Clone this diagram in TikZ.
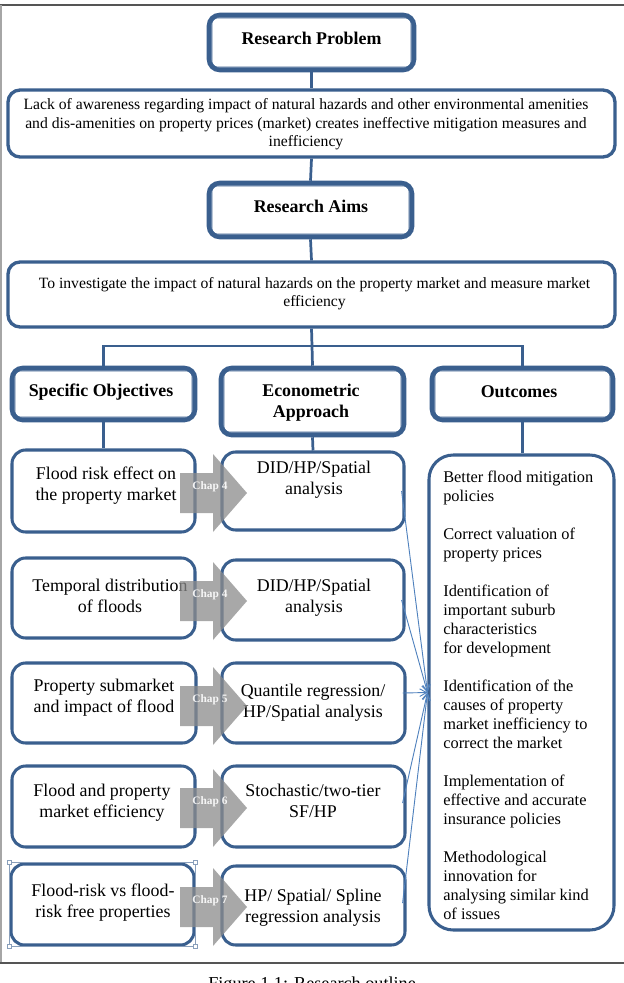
\documentclass[tikz,border=0pt]{standalone}
\usepackage{fontspec}
\setmainfont{Liberation Serif}
\usetikzlibrary{arrows.meta}
\definecolor{bord}{HTML}{3A5F8E}
\definecolor{thinb}{HTML}{4F81BD}
\definecolor{frameg}{HTML}{555555}
\newcommand\pbox[6]{\node[#1, minimum width={(#4-#2)*0.66pt}, minimum height={(#5-#3)*0.66pt}] (#6) at ({(#2+#4)/2},{(#3+#5)/2}) {};}
\newcommand\chaparr[3]{%
  \fill[chapfill] (180,{#1-20}) -- (213,{#1-20}) -- (213,{#1-39}) -- (247,#1) -- (213,{#1+39}) -- (213,{#1+20}) -- (180,{#1+20}) -- cycle;
  \node[chaptxt] (#2) at (210,{#1-6}) {#3};}
\begin{document}
\begin{tikzpicture}[x=0.66pt,y=-0.66pt,
  box/.style={draw=bord,line width=2pt,rounded corners=9pt,fill=white,inner sep=0pt},
  hdr/.style={draw=bord,line width=3pt,rounded corners=7pt,fill=white,inner sep=0pt},
  wide/.style={draw=bord,line width=2.2pt,rounded corners=8pt,fill=white,inner sep=0pt},
  outbox/.style={draw=bord,line width=2pt,rounded corners=16pt,fill=white,inner sep=0pt},
  conn/.style={draw=bord,line width=1.8pt},
  inner/.style={draw=bord,line width=0.55pt,rounded corners=4pt},
  thinarr/.style={draw=thinb,line width=0.6pt,-{Straight Barb[length=4.5pt,width=5pt]}},
  hdrtxt/.style={font=\fontsize{11.8}{13.9}\selectfont\bfseries,align=center,inner sep=0pt},
  rowtxt/.style={font=\fontsize{11.8}{13.9}\selectfont,align=center,inner sep=0pt},
  widetxt/.style={font=\fontsize{10.35}{12.3}\selectfont,align=center,inner sep=0pt},
  chapfill/.style={fill=black!45,fill opacity=0.75},
  chaptxt/.style={font=\fontsize{7.5}{9}\selectfont\bfseries,text=white,inner sep=0pt,text opacity=0.9},
]
\useasboundingbox (0,0) rectangle (624,983);
\clip (0,0) rectangle (624,983);
\fill[white] (0,0) rectangle (624,983);

% frame
\draw[frameg,line width=1.2pt] (0,5) -- (624,5);
\draw[black!35,line width=0.8pt] (1,5) -- (1,963);
\draw[frameg,line width=1.2pt] (0,963) -- (624,963);

% header boxes and wide boxes
\pbox{hdr}{209}{15}{414}{70}{rp}
\pbox{wide}{8}{90}{615}{157}{lack}
\pbox{hdr}{209}{183}{412}{237}{ra}
\pbox{wide}{8}{262}{615}{327}{aim}
\pbox{hdr}{12}{368}{195}{420}{so}
\pbox{hdr}{221}{368}{404}{435}{ea}
\pbox{hdr}{432}{368}{613}{420}{oc}
\foreach \n in {rp,ra,so,ea,oc}
  \draw[inner] ([xshift=3.4pt,yshift=-3.4pt]\n.north west) rectangle ([xshift=-3.4pt,yshift=3.4pt]\n.south east);

% row boxes
\pbox{box}{12}{450}{195}{532}{f1}
\pbox{box}{222}{452}{404}{530}{d1}
\pbox{box}{12}{558}{195}{638}{f2}
\pbox{box}{222}{560}{404}{640}{d2}
\pbox{box}{12}{663}{196}{743}{f3}
\pbox{box}{222}{663}{405}{743}{d3}
\pbox{box}{12}{766}{195}{847}{f4}
\pbox{box}{222}{766}{405}{847}{d4}
\pbox{box}{11}{864}{194}{945}{f5}
\pbox{box}{222}{866}{405}{945}{d5}
\pbox{outbox}{429}{455}{614}{930}{out}

% selection frame around last objective box
\draw[bord!60,line width=0.4pt] (f5.north west) rectangle (f5.south east);
\foreach \a in {north west,north east,south west,south east}
  \filldraw[fill=white,draw=bord!60,line width=0.3pt] ([xshift=-1.2pt,yshift=-1.2pt]f5.\a) rectangle ([xshift=1.2pt,yshift=1.2pt]f5.\a);

% connectors
\coordinate (bus) at (312,346);
\draw[conn] (rp.south) -- (lack.north);
\draw[conn] (lack.south) -- (ra.north);
\draw[conn] (ra.south) -- (aim.north);
\draw[conn] (aim.south) -- (bus);
\draw[conn] (so.north) |- (bus) -| (oc.north);
\draw[conn] (bus) -- (ea.north);
\draw[conn] (so.south) -- (f1.north);
\draw[conn] (ea.south) -- (d1.north);
\draw[conn] (oc.south) -- (oc.south |- out.north);

% texts
\node[hdrtxt] (trp) at (311.5,38) {Research Problem};
\node[widetxt] (tlack) at (306,124.5) {Lack of awareness regarding impact of natural hazards and other environmental amenities\\and dis-amenities on property prices (market) creates ineffective mitigation measures and\\inefficiency};
\node[hdrtxt] (tra) at (311,206) {Research Aims};
\node[widetxt] (taim) at (314.5,293.5) {To investigate the impact of natural hazards on the property market and measure market\\efficiency};
\node[hdrtxt] (tso) at (101,392) {Specific Objectives};
\node[hdrtxt] (tea) at (311,402.5) {Econometric\\Approach};
\node[hdrtxt] (toc) at (519,392) {Outcomes};

\node[rowtxt] (tf1) at (106,486) {Flood risk effect on\\the property market};
\node[rowtxt] (td1) at (314,480) {DID/HP/Spatial\\analysis};
\node[rowtxt] (tf2) at (110,595.5) {Temporal distribution\\of floods};
\node[rowtxt] (td2) at (314,597.5) {DID/HP/Spatial\\analysis};
\node[rowtxt] (tf3) at (104,698) {Property submarket\\and impact of flood};
\node[rowtxt] (td3) at (313,702.5) {Quantile regression/\\HP/Spatial analysis};
\node[rowtxt] (tf4) at (102,803) {Flood and property\\market efficiency};
\node[rowtxt] (td4) at (313,800.5) {Stochastic/two-tier\\SF/HP};
\node[rowtxt] (tf5) at (103,902.5) {Flood-risk vs flood-\\risk free properties};
\node[rowtxt] (td5) at (313,907.5) {HP/ Spatial/ Spline\\regression analysis};

\node[font=\fontsize{10.8}{12.54}\selectfont,align=left,anchor=north west,inner sep=0pt] (outtxt) at (443,470.6)
 {Better flood mitigation\\policies\\[12.54pt]Correct valuation of\\property prices\\[12.54pt]Identification of\\important suburb\\characteristics\\for development\\[12.54pt]Identification of the\\causes of property\\market inefficiency to\\correct the market\\[12.54pt]Implementation of\\effective and accurate\\insurance policies\\[12.54pt]Methodological\\innovation for\\analysing similar kind\\of issues};

% chapter arrows
\chaparr{493}{c1}{Chap 4}
\chaparr{601}{c2}{Chap 4}
\chaparr{706}{c3}{Chap 5}
\chaparr{808}{c4}{Chap 6}
\chaparr{907}{c5}{Chap 7}

% thin arrows to outcomes
\draw[thinarr] ([xshift=-2.6pt]d1.east) -- (out.west);
\draw[thinarr] ([xshift=-2.6pt]d2.east) -- (out.west);
\draw[thinarr] ([xshift=-2.6pt,yshift=6.6pt]d3.east) -- (out.west);
\draw[thinarr] ([xshift=-2.6pt,yshift=2.3pt]d4.east) -- (out.west);
\draw[thinarr] ([xshift=-2.6pt,yshift=1.6pt]d5.east) -- (out.west);

% caption (cut by the page edge, as in the reference)
\node[font=\fontsize{12}{14}\selectfont,anchor=base west,inner sep=0pt] (cap) at (208,989) {Figure 1.1: Research outline};
\end{tikzpicture}
\end{document}
